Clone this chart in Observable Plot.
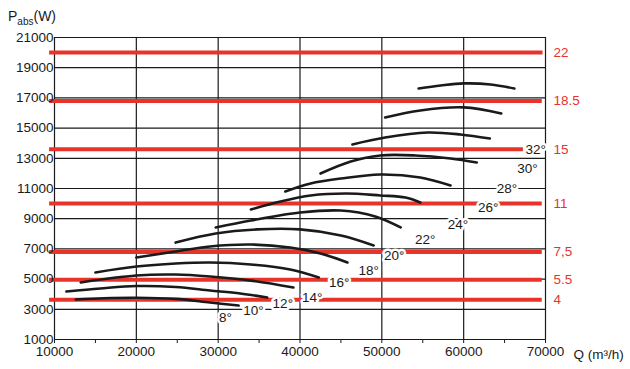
<!DOCTYPE html>
<html><head><meta charset="utf-8">
<script src="https://cdn.jsdelivr.net/npm/d3@7"></script>
<script src="https://cdn.jsdelivr.net/npm/@observablehq/plot@0.6"></script>
<style>body{margin:0;background:#fff}</style>
</head><body><div id="chart"></div>
<script>
// Blade angles and their power curves [Q m3/h, P W]
const angles = ["8°","10°","12°","14°","16°","18°","20°","22°","24°","26°","28°","30°","32°"];
const curve8  = [[12600,3650],[16000,3730],[20000,3760],[24800,3690],[29000,3450],[32500,3250]];
const curve10 = [[11450,4180],[15600,4380],[20000,4540],[24800,4480],[29000,4250],[32700,4050],[36000,3780]];
const curve12 = [[13200,4780],[20000,5240],[24800,5300],[29000,5170],[34000,4900],[39200,4440]];
const curve14 = [[15000,5440],[20000,5830],[24800,6030],[29000,6100],[34000,5970],[38800,5640],[42300,5110]];
const curve16 = [[20000,6430],[24800,6830],[29000,7160],[34000,7290],[38800,7090],[42500,6700],[45800,6100]];
const curve18 = [[24800,7420],[29700,8020],[34800,8290],[40000,8290],[45000,7890],[49000,7230]];
const curve20 = [[29700,8420],[34000,8880],[40000,9410],[45000,9540],[49200,9150],[52300,8420]];
const curve22 = [[34000,9610],[37600,10140],[41300,10540],[45600,10670],[49800,10540],[52900,10400],[54700,10070]];
const curve24 = [[38200,10800],[41300,11330],[45000,11660],[49800,11930],[54700,11730],[58400,11200]];
const curve26 = [[42500,11990],[46200,12790],[49800,13190],[54100,13190],[58400,12990],[61600,12720]];
const curve28 = [[46400,13920],[50400,14380],[55600,14710],[59600,14580],[63200,14310]];
const curve30 = [[50400,15700],[54700,16170],[60000,16370],[64600,15970]];
const curve32 = [[54500,17620],[57200,17820],[60000,17960],[63300,17890],[66200,17620]];
const curves = [curve8,curve10,curve12,curve14,curve16,curve18,curve20,curve22,curve24,curve26,curve28,curve30,curve32];

// Angle label positions [Q, P]
const angleLabelQ = [30900,34300,37900,41500,44800,48400,51500,55300,59300,63000,65300,67800,68800];
const angleLabelP = [2450,2920,3400,3780,4780,5570,6560,7620,8620,9740,11000,12330,13580];

// Motor power lines (kW) at P (W)
const motorLabels = ["22","18.5","15","11","7,5","5.5","4"];
const motorP      = [20000,16800,13600,10000,6800,4950,3630];
const motorQEnd   = [69700,69600,67300,69600,69600,69600,69600];

// Axis ticks
const xTicks = [10000,20000,30000,40000,50000,60000,70000];
const xMinor = [15000,25000,35000,45000,55000,65000];
const yTicks = [1000,3000,5000,7000,9000,11000,13000,15000,17000,19000,21000];

const lineData = curves.flatMap((c,i)=>c.map(([q,p])=>({angle:angles[i],q,p})));
const labelData = angles.map((a,i)=>({text:a,q:angleLabelQ[i],p:angleLabelP[i]}));
const motors = motorLabels.map((l,i)=>({label:l,p:motorP[i],end:motorQEnd[i]}));

const red = "#e8332a";
const ink = "#1a1a1a";

const plot = Plot.plot({
  width:630, height:369,
  marginLeft:54, marginRight:85, marginTop:37, marginBottom:30,
  x:{type:"linear",domain:[10000,70000]},
  y:{type:"linear",domain:[1000,21000]},
  style:{fontFamily:"'Liberation Sans', Arial, sans-serif", fontSize:"13.5px", color:ink, background:"#fff", overflow:"visible"},
  marks:[
    Plot.ruleY(yTicks,{x1:10000,x2:70000,stroke:ink,strokeWidth:1.2}),
    Plot.ruleX(xTicks,{y1:1000,y2:21000,stroke:ink,strokeWidth:1.2}),
    Plot.ruleY(motors,{y:"p",x1:9400,x2:"end",stroke:red,strokeWidth:4}),
    Plot.line(lineData,{x:"q",y:"p",z:"angle",curve:"catmull-rom",stroke:ink,strokeWidth:2.6}),
    Plot.text(labelData,{x:"q",y:"p",text:"text",fill:ink,stroke:"white",strokeWidth:5,fontSize:13.5}),
    Plot.text(motors,{x:70000,y:"p",text:"label",dx:8,textAnchor:"start",fill:red,fontSize:13.5}),
    Plot.axisY(yTicks,{tickSize:0,tickPadding:1,tickFormat:d3.format("d"),label:null,fill:ink}),
    Plot.axisX(xTicks,{tickSize:4,tickPadding:3,tickFormat:d3.format("d"),label:null,fill:ink}),
    Plot.axisX(xMinor,{tickSize:4,tickFormat:()=>"",label:null}),
    Plot.text(["Q (m³/h)"],{x:()=>70000,y:()=>1000,text:d=>d,dx:28,dy:15,textAnchor:"start",fill:ink,fontSize:13.5})
  ]
});

document.getElementById("chart").appendChild(plot);

// Y title with subscript
const svg = d3.select(plot);
const t = svg.append("text").attr("x",8).attr("y",21).attr("text-anchor","start")
  .attr("fill",ink).attr("font-size",14).attr("font-family","'Liberation Sans', Arial, sans-serif");
t.append("tspan").text("P");
t.append("tspan").attr("font-size",10).attr("dy",4).text("abs");
t.append("tspan").attr("dy",-4).text("(W)");
</script>
</body></html>
